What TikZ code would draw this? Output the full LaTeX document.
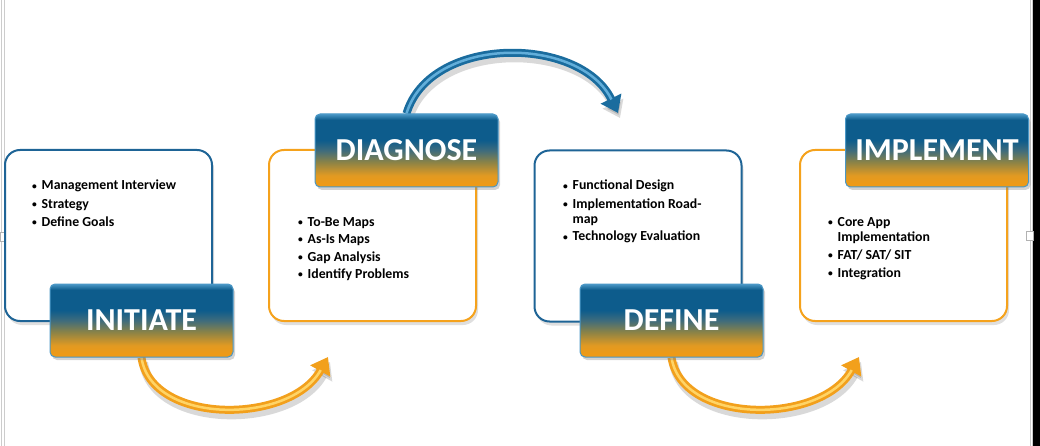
\documentclass[tikz,border=0pt]{standalone}
\usepackage{fontspec}
\setmainfont{Carlito}
\usetikzlibrary{arrows.meta,shadows,backgrounds}
\definecolor{edgeblue}{HTML}{1E6496}
\definecolor{edgeorange}{HTML}{F5A21C}
\definecolor{tagorange}{HTML}{F39A12}
\definecolor{tagamber}{HTML}{E19A22}
\definecolor{tagolive}{HTML}{8C8346}
\definecolor{tagslate}{HTML}{3F6C7C}
\definecolor{tagblue}{HTML}{0D5C8C}
\definecolor{taglight}{HTML}{4A97C6}
\definecolor{tubeorange}{HTML}{F2A01C}
\definecolor{tubeyellow}{HTML}{FFD466}
\definecolor{tubeblue}{HTML}{1A6C9E}
\definecolor{tubesky}{HTML}{62AEDA}
\pgfdeclareverticalshading{tagshade}{100bp}{color(0bp)=(tagorange); color(25bp)=(tagorange);
  color(33bp)=(tagamber); color(42bp)=(tagolive); color(50bp)=(tagslate);
  color(57bp)=(tagblue); color(71bp)=(tagblue); color(75bp)=(taglight); color(100bp)=(taglight)}
\newcommand{\dotmark}{\raisebox{0.6pt}{\fontsize{9.5}{9.5}\selectfont\textbullet}}
\tikzset{
  listbox/.style={rectangle, rounded corners=15pt, fill=white, line width=2pt,
    minimum width=207pt, minimum height=171pt,
    drop shadow={shadow xshift=2pt, shadow yshift=-4pt, opacity=0.25}},
  tagbox/.style={rectangle, rounded corners=5pt, shading=tagshade, draw=taglight, line width=1pt,
    minimum width=183pt, minimum height=73pt, text=white,
    font=\fontsize{32}{32}\selectfont\bfseries,
    drop shadow={shadow xshift=2pt, shadow yshift=-3pt, opacity=0.35}},
  listtext/.style={anchor=base west, inner sep=0pt, font=\fontsize{13.8}{#1}\selectfont\bfseries},
  tube/.style n args={2}{draw=#1, line width=8pt, -{Triangle[length=16pt,width=22pt]},
    preaction={draw=black, opacity=0.15, line width=9pt, transform canvas={shift={(2pt,-5pt)}}},
    postaction={draw=#2, line width=2.5pt, arrows=-, shorten >=15pt}},
}
\begin{document}
\begin{tikzpicture}[x=1pt, y=-1pt]
  \useasboundingbox (0,0) rectangle (1040,446);
  % frame of the slide
  \draw[gray!40] (1.5,0) -- (1.5,446);
  \draw[gray!40] (4,0) -- (4,446);
  \draw[gray!40] (1030,0) -- (1030,446);
  \draw[gray!40] (1032,0) -- (1032,446);
  \fill[black] (1033,0) rectangle (1040,446);
  \draw[gray!60, fill=white] (0,232) rectangle (7,241);
  \draw[gray!60, fill=white] (1026,231) rectangle (1033,240);

  % boxes with the lists
  \node[listbox, draw=edgeblue] (initbox) at (108.5,235.5) {};
  \node[listbox, draw=edgeorange] (diagbox) at (372.5,235.5) {};
  \node[listbox, draw=edgeblue] (defbox) at (638,236) {};
  \node[listbox, draw=edgeorange] (implbox) at (903.5,235.5) {};

  \node[listtext=18] (initlist) at (32,190) {\begin{tabular}[t]{@{}p{9.5pt}@{}l@{}}
    \dotmark & Management Interview\\
    \dotmark & Strategy\\
    \dotmark & Define Goals
  \end{tabular}};
  \node[listtext=17.5] (diaglist) at (298,226) {\begin{tabular}[t]{@{}p{9.5pt}@{}l@{}}
    \dotmark & To-Be Maps\\
    \dotmark & As-Is Maps\\
    \dotmark & Gap Analysis\\
    \dotmark & Identify Problems
  \end{tabular}};
  \node[listtext=15] (deflist) at (563,190) {\begin{tabular}[t]{@{}p{9.5pt}@{}l@{}}
    \dotmark & Functional Design\\[3pt]
    \dotmark & Implementation Road-\\
    & map\\[3pt]
    \dotmark & Technology Evaluation
  \end{tabular}};
  \node[listtext=15] (impllist) at (828,226) {\begin{tabular}[t]{@{}p{9.5pt}@{}l@{}}
    \dotmark & Core App\\
    & Implementation\\[3pt]
    \dotmark & FAT/ SAT/ SIT\\[3pt]
    \dotmark & Integration
  \end{tabular}};

  % step titles
  \node[tagbox] (init) at (141.5,320.5) {INITIATE};
  \node[tagbox] (diag) at (406.5,150.5) {DIAGNOSE};
  \node[tagbox] (def) at (671.5,320.5) {DEFINE};
  \node[tagbox] (impl) at (937,150.5) {IMPLEMENT};

  % curved arrows between the steps
  \coordinate (tipa) at (328,357);
  \coordinate (tipb) at (618,113);
  \coordinate (tipc) at (859,357);
  \begin{scope}[on background layer]
    \draw[tube={tubeorange}{tubeyellow}] (init.south) .. controls (151,425) and (290,425) .. (tipa);
    \draw[tube={tubeblue}{tubesky}] (diag.north) .. controls (430,35) and (580,35) .. (tipb);
    \draw[tube={tubeorange}{tubeyellow}] (def.south) .. controls (682,425) and (821,425) .. (tipc);
  \end{scope}
\end{tikzpicture}
\end{document}
